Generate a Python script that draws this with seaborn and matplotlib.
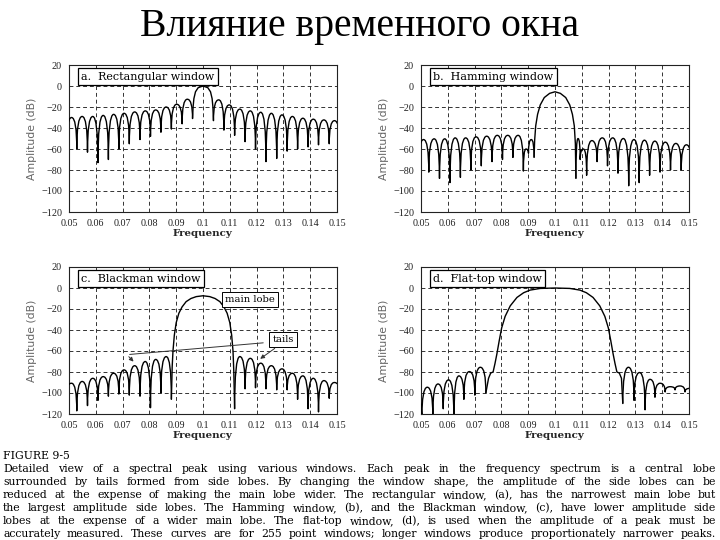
import matplotlib
matplotlib.use("Agg")
import matplotlib.pyplot as plt
import seaborn as sns
from matplotlib.path import Path
from matplotlib.patches import PathPatch

# values (frequency, amplitude in dB)
freq_ticks = [0.05, 0.06, 0.07, 0.08, 0.09, 0.10, 0.11, 0.12, 0.13, 0.14, 0.15]
freq_labels = ['0.05', '0.06', '0.07', '0.08', '0.09', '0.1', '0.11', '0.12', '0.13', '0.14', '0.15']
amp_ticks = [20, 0, -20, -40, -60, -80, -100, -120]

# side lobes: nulls (freq + depth) and the level of the lobe between two nulls
# None marks the main lobe, which is drawn from its own points
a_nulls = [0.0490, 0.0529, 0.0569, 0.0608, 0.0647, 0.0686, 0.0725, 0.0765, 0.0804, 0.0843, 0.0882, 0.0922, 0.0961,
           0.1039, 0.1078, 0.1118, 0.1157, 0.1196, 0.1235, 0.1275, 0.1314, 0.1353, 0.1392, 0.1431, 0.1471, 0.1510]
a_null_db = [-60, -60, -63, -73, -70, -60, -55, -51, -48, -44, -41, -36, -31,
             -33, -42, -47, -53, -60, -72, -69, -62, -60, -58, -56, -55, -55]
a_peak_db = [-30, -29, -29, -28, -27, -26, -24.7, -23.7, -22.8, -20, -17.4, -12.6, None,
             -13.2, -18, -22, -23.7, -25, -26, -27.5, -29, -30.7, -31.6, -32.3, -33]
a_main_f = [0.0961, 0.0963, 0.0966, 0.0972, 0.0982, 0.1000, 0.1018, 0.1028, 0.1034, 0.1037, 0.1039]
a_main_db = [-31, -20, -12, -5.5, -1.6, 0, -1.6, -5.5, -12, -20, -33]

b_nulls = [0.0490, 0.0529, 0.0569, 0.0608, 0.0647, 0.0686, 0.0725, 0.0765, 0.0804, 0.0843, 0.0882, 0.0901, 0.0922,
           0.1078, 0.1094, 0.1118, 0.1157, 0.1196, 0.1235, 0.1275, 0.1314, 0.1353, 0.1392, 0.1431, 0.1471, 0.1510]
b_null_db = [-80, -82, -88, -92, -87, -80, -76, -72, -70, -68, -81, -64, -68,
             -88, -70, -85, -72, -76, -83, -95, -92, -85, -82, -80, -80, -80]
b_peak_db = [-51, -50.3, -50.3, -49.4, -49.4, -48.4, -47.8, -47, -47, -47, -60, -51, None,
             -50, -60, -52, -49.4, -49.4, -50, -51, -51.6, -52.5, -53.5, -54.7, -56]
b_main_f = [0.0922, 0.0924, 0.0928, 0.0935, 0.0945, 0.0960, 0.0980, 0.1000,
            0.1020, 0.1040, 0.1055, 0.1065, 0.1072, 0.1076, 0.1078]
b_main_db = [-68, -52, -38, -27, -18, -11, -7, -5.5, -7, -11, -18, -27, -38, -55, -88]

c_nulls = [0.0490, 0.0529, 0.0569, 0.0608, 0.0647, 0.0686, 0.0725, 0.0765, 0.0804, 0.0843, 0.0882,
           0.1118, 0.1157, 0.1196, 0.1235, 0.1275, 0.1314, 0.1353, 0.1392, 0.1431, 0.1471, 0.1510]
c_null_db = [-100, -117, -112, -107, -103, -101, -102, -103, -114, -100, -106,
             -115, -96, -95, -96, -97, -97, -106, -115, -118, -105, -100]
c_peak_db = [-90.7, -89, -86, -84.4, -81.2, -78, -74, -70, -68, -65.3, None,
             -65.3, -67, -71.6, -74, -77, -81.2, -83.7, -86, -88.2, -90]
c_main_f = [0.0882, 0.0885, 0.0888, 0.0893, 0.0900, 0.0910, 0.0922, 0.0937, 0.0955, 0.0975, 0.1000,
            0.1025, 0.1045, 0.1063, 0.1078, 0.1090, 0.1100, 0.1107, 0.1112, 0.1115, 0.1118]
c_main_db = [-106, -75, -60, -45, -33, -24, -18, -13, -10, -8.2, -7.4,
             -8.2, -10, -13, -18, -24, -33, -45, -60, -80, -115]

d_nulls = [0.0463, 0.0503, 0.0544, 0.0583, 0.0623, 0.0660, 0.0701, 0.0742,
           0.1253, 0.1295, 0.1336, 0.1373, 0.1411, 0.1448, 0.1485, 0.1525]
d_null_db = [-110, -125, -121, -115, -125, -106, -102, -100,
             -110, -107, -116, -104, -99, -97, -99, -98]
d_peak_db = [-103, -94.5, -91.4, -87.5, -83.7, -79.6, -75.5, None,
             -75.5, -80.5, -87, -90.7, -94, -93.3, -95.5]
d_main_f = [0.0742, 0.0752, 0.0760, 0.0769, 0.0776, 0.0783, 0.0792, 0.0801, 0.0814, 0.0833, 0.0858,
            0.0883, 0.0907, 0.0945, 0.1000, 0.1055, 0.1093, 0.1117, 0.1142, 0.1167, 0.1186,
            0.1199, 0.1208, 0.1217, 0.1224, 0.1231, 0.1240, 0.1248, 0.1253]
d_main_db = [-100, -86, -81, -80, -72, -63, -50, -38, -27, -17, -9,
             -4.5, -2, -0.4, 0, -0.4, -2, -4.5, -9, -17, -27,
             -38, -50, -63, -72, -80, -81, -86, -110]

panel_titles = ['a.  Rectangular window', 'b.  Hamming window', 'c.  Blackman window', 'd.  Flat-top window']

caption_head = 'FIGURE 9-5'
caption_lines = [
    'Detailed view of a spectral peak using various windows.  Each peak in the frequency spectrum is a central lobe',
    'surrounded by tails formed from side lobes. By changing the window shape, the amplitude of the side lobes can be',
    'reduced at the expense of making the main lobe wider.  The rectangular window, (a), has the narrowest main lobe but',
    'the largest amplitude side lobes.  The Hamming window, (b), and the Blackman window, (c), have lower amplitude side',
    'lobes at the expense of a wider main lobe.  The flat-top window, (d), is used when the amplitude of a peak must be',
    'accurately measured.  These curves are for 255 point windows; longer windows produce proportionately narrower peaks.',
]


def lobe_path(nulls, null_db, peak_db):
    # each lobe is a pair of quadratic curves: null -> top -> next null
    verts, codes = [], []
    pen_down = False
    for i, p in enumerate(peak_db):
        n0, n1 = nulls[i], nulls[i + 1]
        if p is None:
            pen_down = False
            continue
        if not pen_down:
            verts.append((n0, null_db[i]))
            codes.append(Path.MOVETO)
            pen_down = True
        mid = (n0 + n1) / 2
        verts += [(n0, p), (mid, p), (n1, p), (n1, null_db[i + 1])]
        codes += [Path.CURVE3] * 4
    return Path(verts, codes)


sns.set_style('white')
plt.rcParams['font.family'] = ['DejaVu Serif']
plt.rcParams['text.color'] = 'black'

fig = plt.figure(figsize=(7.2, 5.4), dpi=100)
W, H = 720, 540
boxes = [(69, 65), (421, 65), (69, 267), (421, 267)]
axes = [fig.add_axes([x / W, 1 - (y + 147) / H, 268 / W, 147 / H]) for x, y in boxes]

series = [
    (a_nulls, a_null_db, a_peak_db, a_main_f, a_main_db),
    (b_nulls, b_null_db, b_peak_db, b_main_f, b_main_db),
    (c_nulls, c_null_db, c_peak_db, c_main_f, c_main_db),
    (d_nulls, d_null_db, d_peak_db, d_main_f, d_main_db),
]

for ax, title, (nulls, ndb, pdb, mf, mdb) in zip(axes, panel_titles, series):
    ax.add_patch(PathPatch(lobe_path(nulls, ndb, pdb), fill=False, edgecolor='black',
                           linewidth=1.0, joinstyle='round', zorder=3))
    sns.lineplot(x=mf, y=mdb, ax=ax, color='black', linewidth=1.0, sort=False, estimator=None, zorder=3)
    ax.set_xlim(0.05, 0.15)
    ax.set_ylim(-120, 20)
    ax.set_xticks(freq_ticks)
    ax.set_xticklabels(freq_labels)
    ax.set_yticks(amp_ticks)
    ax.tick_params(labelsize=7.3, colors='#222', length=3, width=0.7, pad=2)
    for lab in ax.get_xticklabels() + ax.get_yticklabels():
        lab.set_family('Liberation Serif')
    ax.grid(True, color='#333', linestyle=(0, (4, 3)), linewidth=0.7)
    ax.set_axisbelow(True)
    for s in ax.spines.values():
        s.set_color('#222')
        s.set_linewidth(0.8)
    ax.set_xlabel('Frequency', fontweight='bold', fontsize=7.4, labelpad=1)
    ax.set_ylabel('Amplitude (dB)', family=['Liberation Sans Narrow', 'DejaVu Sans'],
                  color='#666', fontsize=7.8, labelpad=3)
    ax.text(0.0545, 9, title, fontsize=8, va='center', zorder=5,
            bbox=dict(boxstyle='square,pad=0.3', fc='white', ec='black', lw=0.9))

# annotations of panel c
ax_c = axes[2]
ax_c.text(0.1175, -10.5, 'main lobe', fontsize=7.2, ha='center', va='center', zorder=5,
          bbox=dict(boxstyle='square,pad=0.3', fc='white', ec='black', lw=0.7))
ax_c.text(0.1298, -49.5, 'tails', fontsize=7.2, ha='center', va='center', zorder=5,
          bbox=dict(boxstyle='square,pad=0.3', fc='white', ec='black', lw=0.7))
ax_c.annotate('', xy=(0.0716, -63.5), xytext=(0.1235, -52),
              arrowprops=dict(arrowstyle='-', color='#333', lw=0.7), zorder=4)
ax_c.annotate('', xy=(0.0748, -72), xytext=(0.0716, -63.5),
              arrowprops=dict(arrowstyle='-|>', color='#333', lw=0.7, mutation_scale=6), zorder=4)
ax_c.annotate('', xy=(0.1205, -69), xytext=(0.1276, -56),
              arrowprops=dict(arrowstyle='-|>', color='#333', lw=0.7, mutation_scale=6), zorder=4)

fig.text(0.499, 1 - 36 / H, 'Влияние временного окна', ha='center', va='baseline',
         fontsize=28.5, family='Liberation Serif', color='black')

# caption, justified word by word
renderer = fig.canvas.get_renderer()
cap_size = 7.8
fig.text(3 / W, 1 - 455.0 / H, caption_head, fontsize=cap_size, va='center_baseline')
caption_y = [468.0, 481.0, 494.0, 507.0, 520.0, 533.0]
x_left, x_right = 3, 716
for line, yc in zip(caption_lines, caption_y):
    words = line.split()
    size = cap_size
    while True:
        objs = [fig.text(0, 1 - yc / H, w, fontsize=size, va='center_baseline') for w in words]
        widths = [o.get_window_extent(renderer=renderer).width for o in objs]
        gap = (x_right - x_left - sum(widths)) / (len(words) - 1)
        if gap >= 2.5:
            break
        for o in objs:
            o.remove()
        size -= 0.1
    x = x_left
    for o, w in zip(objs, widths):
        o.set_x(x / W)
        x += w + gap

fig.savefig('out.png', dpi=100)
